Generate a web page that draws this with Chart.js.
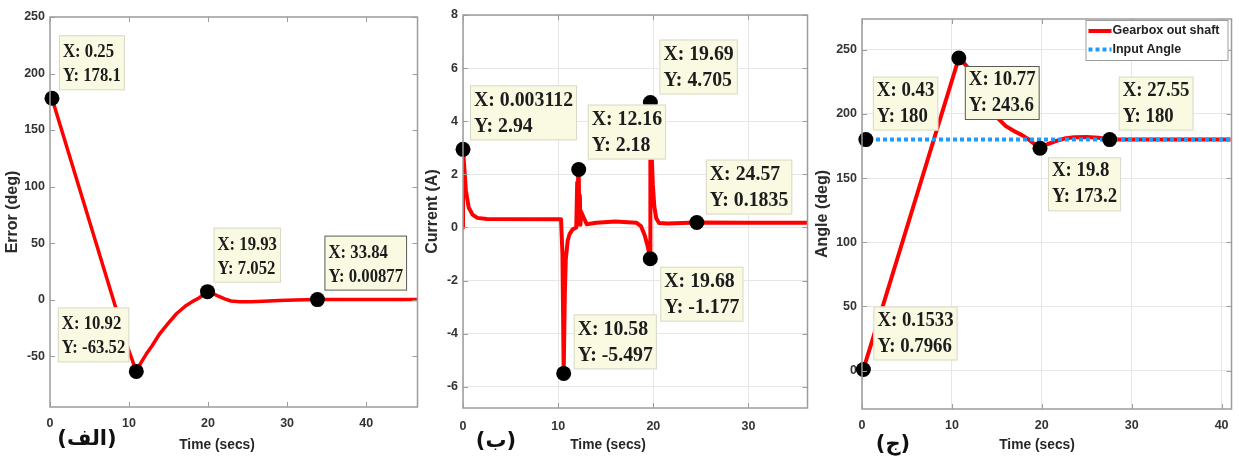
<!DOCTYPE html>
<html>
<head>
<meta charset="utf-8">
<script src="https://cdn.jsdelivr.net/npm/chart.js@4.4.0/dist/chart.umd.min.js"></script>
<style>
  html, body { margin: 0; padding: 0; background: #fff; }
  #wrap { position: relative; width: 1239px; height: 460px; overflow: hidden; }
  .panel { position: absolute; top: 0; height: 460px; }
</style>
</head>
<body>
<div id="wrap">
  <div class="panel" style="left:0;width:425px"><canvas id="errChart"></canvas></div>
  <div class="panel" style="left:425px;width:390px"><canvas id="curChart"></canvas></div>
  <div class="panel" style="left:815px;width:424px"><canvas id="angChart"></canvas></div>
</div>
<script>
// (الف) tracking error
const errorTime = [0.25, 10.0, 10.92, 11.5, 12.2, 12.9, 13.9, 15.0, 16.0, 17.1, 18.0, 18.8, 19.4, 19.93,
  20.6, 21.3, 22.1, 22.9, 24.0, 25.4, 27, 29, 31, 33.84, 40, 46.5];
const errorDeg = [178.1, -45.6, -63.52, -56, -48, -41, -30, -20.6, -12.5, -5.9, -1.8, 1.2, 4.2, 7.052,
  5.5, 3, 0.6, -1.2, -1.9, -2, -1.5, -0.8, -0.3, 0.00877, 0, 0];
const errorTipX = [0.25, 10.92, 19.93, 33.84];
const errorTipY = [178.1, -63.52, 7.052, 0.00877];

// (ب) motor current
const currentTime = [0, 0.003, 0.3, 0.6, 1.0, 1.5, 2.5, 10.3, 10.45, 10.58, 10.7, 10.8, 11.0, 11.2, 11.5, 11.9,
  12.0, 12.05, 12.1, 12.16, 12.22, 12.28, 12.34, 12.4, 13.0, 14, 16, 18.2, 18.7, 19.1, 19.4, 19.68,
  19.69, 19.8, 19.95, 20.1, 20.3, 20.6, 21.5, 24.57, 30, 36.2];
const currentAmp = [0, 2.94, 1.4, 0.75, 0.48, 0.36, 0.32, 0.31, -1.0, -5.497, -2.5, -1.2, -0.5, -0.25, -0.08, 0.0,
  1.7, 0.1, 2.0, 2.18, 0.2, 1.2, 0.1, 0.6, 0.12, 0.18, 0.22, 0.18, 0.05, -0.3, -0.7, -1.177,
  4.705, 3.0, 1.6, 0.8, 0.35, 0.17, 0.15, 0.1835, 0.18, 0.18];
const currentTipX = [0.003112, 12.16, 19.69, 24.57, 19.68, 10.58];
const currentTipY = [2.94, 2.18, 4.705, 0.1835, -1.177, -5.497];

// (ج) gearbox output angle vs input angle
const angleTime = [0, 0.1533, 10.77, 11.3, 11.9, 12.5, 13.2, 14.0, 14.7, 15.2, 16.0, 17.0, 17.8, 18.5, 19.1, 19.8,
  20.5, 21.4, 22.5, 23.6, 25.0, 26.3, 27.55, 30, 35, 41];
const angleDeg = [0, 0.7966, 243.6, 240, 235, 228, 219, 209, 201, 196, 190.5, 186.3, 183.5, 180.4, 177, 173.2,
  176, 178.5, 180.8, 181.9, 182.1, 181.4, 180, 180, 180, 180];
const inputTime = [0, 41];
const inputDeg = [180, 180];
const angleTipX = [0.43, 10.77, 27.55, 19.8, 0.1533];
const angleTipY = [180, 243.6, 180, 173.2, 0.7966];

const seriesNames = ['Gearbox out shaft', 'Input Angle'];

const pts = (xs, ys) => xs.map((x, i) => ({ x, y: ys[i] }));

const TICK_FONT = { family: '"Liberation Sans", Arial, sans-serif', size: 12.5, weight: 'bold' };
const TITLE_FONT = { family: '"Liberation Sans", Arial, sans-serif', size: 16, weight: 'bold', lineHeight: 1 };

// datatip box: dx/dy = gap from the point to the near box corner, sel = highlighted border
function drawTip(ctx, px, py, xText, yText, place, st) {
  ctx.save();
  ctx.font = `bold ${st.size}px "Liberation Serif", "Times New Roman", serif`;
  const w = Math.max(ctx.measureText(xText).width, ctx.measureText(yText).width) * st.sx + 8;
  const h = st.h;
  const bx = place.dx >= 0 ? px + place.dx : px + place.dx - w;
  const by = py + place.dy;
  ctx.fillStyle = '#fafae3';
  ctx.fillRect(bx, by, w, h);
  ctx.strokeStyle = place.sel ? '#5a5a5a' : '#d8d8c8';
  ctx.lineWidth = 1;
  ctx.strokeRect(bx + 0.5, by + 0.5, w - 1, h - 1);
  ctx.fillStyle = '#1c1c1c';
  ctx.textBaseline = 'middle';
  ctx.translate(bx + 4, by);
  ctx.scale(st.sx, 1);
  ctx.fillText(xText, 0, st.l1);
  ctx.fillText(yText, 0, st.l2);
  ctx.restore();
}

const matlabLook = {
  id: 'matlabLook',
  afterDatasetsDraw(chart, args, opts) {
    const { ctx, chartArea: a } = chart;
    const xs = chart.scales.x, ys = chart.scales.y;
    ctx.save();
    // axes box
    ctx.strokeStyle = '#9c9c9c';
    ctx.lineWidth = 1.5;
    ctx.strokeRect(a.left, a.top, a.right - a.left, a.bottom - a.top);
    // inward tick marks on all four sides
    ctx.lineWidth = 1;
    ctx.beginPath();
    xs.ticks.forEach((t) => {
      const p = Math.round(xs.getPixelForValue(t.value)) + 0.5;
      ctx.moveTo(p, a.bottom); ctx.lineTo(p, a.bottom - 5);
      ctx.moveTo(p, a.top); ctx.lineTo(p, a.top + 5);
    });
    ys.ticks.forEach((t) => {
      const p = Math.round(ys.getPixelForValue(t.value)) + 0.5;
      ctx.moveTo(a.left, p); ctx.lineTo(a.left + 5, p);
      ctx.moveTo(a.right, p); ctx.lineTo(a.right - 5, p);
    });
    ctx.stroke();
    ctx.restore();

    // datatips
    opts.tipX.forEach((tx, i) => {
      const px = xs.getPixelForValue(tx);
      const py = ys.getPixelForValue(opts.tipY[i]);
      drawTip(ctx, px, py, 'X: ' + tx, 'Y: ' + opts.tipY[i], opts.tipPlace[i], opts.tipStyle);
    });

    // legend box (only on the angle panel)
    if (opts.legend) {
      const lg = opts.legend;
      const bx = a.right - 3 - lg.w, by = a.top + 1;
      ctx.save();
      ctx.fillStyle = '#fff';
      ctx.fillRect(bx, by, lg.w, lg.h);
      ctx.strokeStyle = '#9c9c9c';
      ctx.lineWidth = 1;
      ctx.strokeRect(bx + 0.5, by + 0.5, lg.w - 1, lg.h - 1);
      ctx.font = 'bold 12.5px "Liberation Sans", Arial, sans-serif';
      ctx.textBaseline = 'middle';
      lg.items.forEach((it, k) => {
        const y = by + lg.rows[k];
        ctx.strokeStyle = it.color;
        ctx.lineWidth = 4;
        ctx.setLineDash(it.dash || []);
        ctx.beginPath();
        ctx.moveTo(bx + 3, y); ctx.lineTo(bx + 26, y);
        ctx.stroke();
        ctx.setLineDash([]);
        ctx.fillStyle = '#222';
        ctx.fillText(it.text, bx + 27, y);
      });
      ctx.restore();
    }
  },
  afterDraw(chart, args, opts) {
    const { ctx } = chart;
    ctx.save();
    ctx.fillStyle = '#262626';
    ctx.textAlign = 'center';
    ctx.textBaseline = 'middle';
    ctx.font = 'bold 15.5px "Liberation Sans", Arial, sans-serif';
    ctx.translate(opts.xTitlePos[0], opts.xTitlePos[1]);
    ctx.scale(0.89, 1);
    ctx.fillText('Time (secs)', 0, 0);
    ctx.restore();

    ctx.save();
    ctx.fillStyle = '#111';
    ctx.textAlign = 'center';
    ctx.textBaseline = 'middle';
    ctx.font = 'bold 21px "DejaVu Sans", "Noto Sans", sans-serif';
    ctx.fillText(opts.panelLabel, opts.panelPos[0], opts.panelPos[1]);
    ctx.restore();
  },
};

function makePanel(id, cfg) {
  const datasets = [
    {
      data: pts(cfg.tipX, cfg.tipY),
      showLine: false,
      pointRadius: 7.5,
      pointBackgroundColor: '#000',
      pointBorderWidth: 0,
      clip: false,
      order: 0,
    },
  ];
  cfg.lines.forEach((ln) => {
    datasets.push({
      label: ln.label,
      data: ln.data,
      showLine: true,
      borderColor: ln.color,
      borderWidth: ln.width,
      borderDash: ln.dash || [],
      borderCapStyle: 'butt',
      borderJoinStyle: 'round',
      pointRadius: 0,
      tension: 0,
      order: ln.order,
    });
  });

  new Chart(document.getElementById(id), {
    type: 'scatter',
    data: { datasets },
    options: {
      responsive: true,
      maintainAspectRatio: false,
      animation: false,
      layout: { padding: cfg.pad },
      plugins: {
        legend: { display: false },
        tooltip: { enabled: false },
        matlabLook: {
          tipX: cfg.tipX,
          tipY: cfg.tipY,
          tipPlace: cfg.tipPlace,
          tipStyle: cfg.tipStyle,
          legend: cfg.legend,
          xTitlePos: cfg.xTitlePos,
          panelLabel: cfg.panelLabel,
          panelPos: cfg.panelPos,
        },
      },
      scales: {
        x: {
          type: 'linear',
          min: 0,
          max: cfg.xMax,
          afterFit: (s) => { s.height = cfg.xAxisH; },
          ticks: { stepSize: 10, includeBounds: false, color: '#333', font: TICK_FONT, padding: cfg.xTickPad, maxRotation: 0 },
          grid: { display: cfg.grid, color: '#e6e6e6', drawTicks: false },
          border: { display: false },
        },
        y: {
          min: cfg.yMin,
          max: cfg.yMax,
          afterFit: (s) => { s.width = cfg.yAxisW; },
          ticks: { stepSize: cfg.yStep, includeBounds: false, color: '#333', font: TICK_FONT, padding: 5 },
          grid: { display: cfg.grid, color: '#e6e6e6', drawTicks: false },
          border: { display: false },
          title: { display: true, text: cfg.yTitle, color: '#2b2b2b', font: TITLE_FONT, padding: { top: cfg.yTitlePad, bottom: 0 } },
        },
      },
    },
    plugins: [matlabLook],
  });
}

makePanel('errChart', {
  pad: { left: 0, top: 17, right: 3, bottom: 0 },
  yAxisW: 50, xAxisH: 53, xTickPad: 9, yTitlePad: 5,
  xMax: 46.5, yMin: -95, yMax: 250, yStep: 50, grid: false,
  yTitle: 'Error (deg)',
  lines: [{ label: 'Error', data: pts(errorTime, errorDeg), color: '#ff0000', width: 3.5, order: 2 }],
  tipX: errorTipX, tipY: errorTipY,
  tipPlace: [{ dx: 7, dy: -63 }, { dx: -7, dy: -64 }, { dx: 6, dy: -64 }, { dx: 7, dy: -64, sel: true }],
  tipStyle: { size: 19, sx: 0.88, h: 55, l1: 17, l2: 41 },
  xTitlePos: [217, 445],
  panelLabel: '(الف)', panelPos: [87, 440],
});

makePanel('curChart', {
  pad: { left: 0, top: 15, right: 7, bottom: 0 },
  yAxisW: 38, xAxisH: 52, xTickPad: 11, yTitlePad: 0,
  xMax: 36.2, yMin: -6.8, yMax: 8, yStep: 2, grid: true,
  yTitle: 'Current (A)',
  lines: [{ label: 'Current', data: pts(currentTime, currentAmp), color: '#ff0000', width: 4, order: 2 }],
  tipX: currentTipX, tipY: currentTipY,
  tipPlace: [{ dx: 7, dy: -64 }, { dx: 9, dy: -65 }, { dx: 9, dy: -63 }, { dx: 9, dy: -63 }, { dx: 10, dy: 8 }, { dx: 10, dy: -59 }],
  tipStyle: { size: 20, sx: 0.99, h: 55, l1: 15, l2: 41 },
  xTitlePos: [183, 445],
  panelLabel: '(ب)', panelPos: [71, 442],
});

makePanel('angChart', {
  pad: { left: 0, top: 19, right: 3, bottom: 0 },
  yAxisW: 47, xAxisH: 51, xTickPad: 9, yTitlePad: 0,
  xMax: 41.1, yMin: -30, yMax: 274, yStep: 50, grid: true,
  yTitle: 'Angle (deg)',
  lines: [
    { label: seriesNames[0], data: pts(angleTime, angleDeg), color: '#ff0000', width: 4, order: 2 },
    { label: seriesNames[1], data: pts(inputTime, inputDeg), color: '#1e9bff', width: 4, dash: [4, 3], order: 1 },
  ],
  tipX: angleTipX, tipY: angleTipY,
  tipPlace: [{ dx: 7, dy: -63 }, { dx: 6, dy: 8, sel: true }, { dx: 9, dy: -63 }, { dx: 8, dy: 9 }, { dx: 10, dy: -63 }],
  tipStyle: { size: 20, sx: 0.94, h: 54, l1: 14, l2: 40 },
  legend: {
    w: 143, h: 41, rows: [11, 29.5],
    items: [
      { text: seriesNames[0], color: '#ff0000' },
      { text: seriesNames[1], color: '#1e9bff', dash: [4, 3] },
    ],
  },
  xTitlePos: [222, 445],
  panelLabel: '(ج)', panelPos: [78, 445],
});
</script>
</body>
</html>
